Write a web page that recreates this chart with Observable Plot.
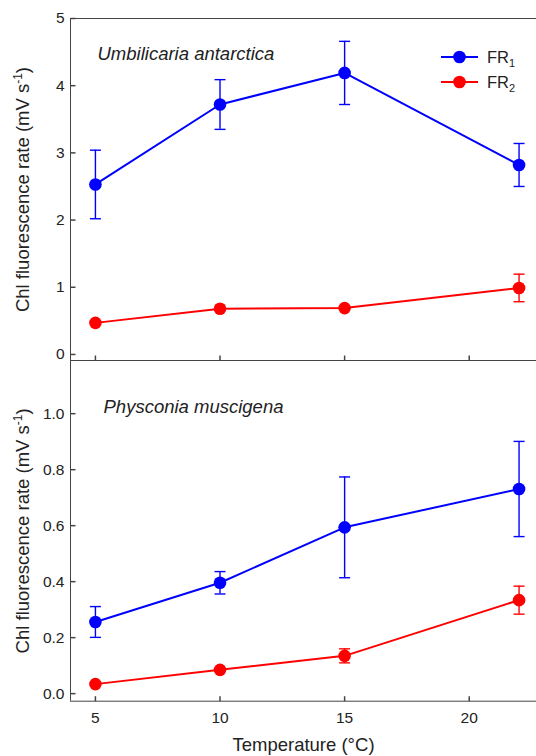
<!DOCTYPE html>
<html><head><meta charset="utf-8">
<script src="https://cdn.jsdelivr.net/npm/d3@7"></script>
<script src="https://cdn.jsdelivr.net/npm/@observablehq/plot@0.6"></script>
<style>
body{margin:0;background:#fff;}
#wrap{position:relative;width:536px;height:756px;overflow:hidden;background:#fff;font-family:"Liberation Sans",Arial,sans-serif;}
#wrap svg{position:absolute;left:0;}
</style></head><body><div id="wrap"></div>
<script>
// ---- data ----
const temps = [5, 10, 15, 22];
const xTicks = [5, 10, 15, 20];
const seriesNames = ["FR1", "FR2"];
const seriesColors = ["#0000ff", "#ff0000"];
// Umbilicaria antarctica
const umbFR1 = [2.53, 3.72, 4.19, 2.82];
const umbFR1se = [0.51, 0.37, 0.47, 0.32];
const umbFR2 = [0.47, 0.68, 0.69, 0.99];
const umbFR2se = [null, null, null, 0.205];
const umbYTicks = [0, 1, 2, 3, 4, 5];
// Physconia muscigena
const phyFR1 = [0.256, 0.396, 0.594, 0.731];
const phyFR1se = [0.055, 0.04, 0.18, 0.17];
const phyFR2 = [0.034, 0.085, 0.135, 0.334];
const phyFR2se = [null, null, 0.025, 0.05];
const phyYTicks = [0.0, 0.2, 0.4, 0.6, 0.8, 1.0];

const yTitle = "Chl fluorescence rate (mV s-1)";
const xTitle = "Temperature (\u00b0C)";
const font = '"Liberation Sans", Arial, sans-serif';
const axisColor = "#444";

function rows(series, means, ses) {
  return temps.map((t, i) => ({
    t, series, v: means[i],
    lo: ses[i] == null ? null : means[i] - ses[i],
    hi: ses[i] == null ? null : means[i] + ses[i]
  }));
}

const capSym = {draw(ctx, size) {const w = Math.sqrt(size / Math.PI); ctx.moveTo(-w, 0); ctx.lineTo(w, 0);}};
const tickRight = {draw(ctx, size) {const w = Math.sqrt(size / Math.PI); ctx.moveTo(0, 0); ctx.lineTo(w, 0);}};
const tickUp = {draw(ctx, size) {const w = Math.sqrt(size / Math.PI); ctx.moveTo(0, 0); ctx.lineTo(0, -w);}};

function panel({data, yDomain, yTicks, fmt, title, titleDx, titleDy, showX, height, marginTop, marginBottom}) {
  const xDomain = [4, 22.7];
  const err = data.filter(d => d.lo != null);
  const marks = [
    Plot.ruleY([yDomain[0], yDomain[1]], {stroke: axisColor, strokeWidth: 1}),
    Plot.ruleX([xDomain[0]], {stroke: axisColor, strokeWidth: 1}),
    Plot.dot(yTicks, {y: d => d, frameAnchor: "left", symbol: tickRight, r: 5, stroke: axisColor, fill: "none"}),
    Plot.dot(xTicks, {x: d => d, frameAnchor: "bottom", symbol: tickUp, r: 5, stroke: axisColor, fill: "none"}),
    Plot.axisY(yTicks, {tickSize: 0, tickPadding: 6, tickFormat: fmt, label: null}),
    Plot.text([yTitle], {frameAnchor: "left", rotate: -90, dx: -47, fontSize: 18.5, fill: "#222", textAnchor: "middle"}),
    Plot.text([title], {frameAnchor: "top-left", dx: titleDx, dy: titleDy, textAnchor: "start", fontStyle: "italic", fontSize: 18.5, fill: "#222"}),
    Plot.ruleX(err, {x: "t", y1: "lo", y2: "hi", stroke: "series", strokeWidth: 1.4}),
    Plot.dot(err, {x: "t", y: "lo", symbol: capSym, r: 5.5, stroke: "series", fill: "none", strokeWidth: 1.4}),
    Plot.dot(err, {x: "t", y: "hi", symbol: capSym, r: 5.5, stroke: "series", fill: "none", strokeWidth: 1.4}),
    Plot.line(data, {x: "t", y: "v", z: "series", stroke: "series", strokeWidth: 2}),
    Plot.dot(data, {x: "t", y: "v", r: 6.3, fill: "series", stroke: "none"})
  ];
  if (showX) {
    marks.push(Plot.axisX(xTicks, {tickSize: 0, tickPadding: 11, label: null}));
    marks.push(Plot.text([xTitle], {frameAnchor: "bottom", dy: 50, fontSize: 18.5, fill: "#222"}));
  }
  const svg = Plot.plot({
    width: 536, height, marginLeft: 70, marginRight: 0, marginTop, marginBottom,
    style: {fontFamily: font, fontSize: "15.5px", color: "#222", background: "transparent", overflow: "visible"},
    x: {domain: xDomain, axis: showX ? undefined : null},
    y: {domain: yDomain},
    color: {domain: seriesNames, range: seriesColors},
    marks
  });
  // superscript in the y title
  svg.querySelectorAll("text").forEach(el => {
    if (el.textContent === yTitle) {
      el.textContent = "";
      el.setAttribute("text-anchor", "middle");
      const ns = "http://www.w3.org/2000/svg";
      const a = document.createElementNS(ns, "tspan"); a.textContent = "Chl fluorescence rate (mV s"; el.appendChild(a);
      const b = document.createElementNS(ns, "tspan"); b.textContent = "-1"; b.setAttribute("font-size", "12px"); b.setAttribute("dy", "-7"); el.appendChild(b);
      const c = document.createElementNS(ns, "tspan"); c.textContent = ")"; c.setAttribute("dy", "7"); el.appendChild(c);
    }
  });
  return svg;
}

const wrap = document.getElementById("wrap");
const top1 = panel({
  data: [...rows("FR1", umbFR1, umbFR1se), ...rows("FR2", umbFR2, umbFR2se)],
  yDomain: [-0.09, 5], yTicks: umbYTicks, fmt: d3.format("d"),
  title: "Umbilicaria antarctica", titleDx: 27, titleDy: 28,
  showX: false, height: 370, marginTop: 18, marginBottom: 10
});
top1.style.top = "0px";
wrap.appendChild(top1);

const bot = panel({
  data: [...rows("FR1", phyFR1, phyFR1se), ...rows("FR2", phyFR2, phyFR2se)],
  yDomain: [-0.027, 1.19], yTicks: phyYTicks, fmt: d3.format(".1f"),
  title: "Physconia muscigena", titleDx: 33, titleDy: 39,
  showX: true, height: 406, marginTop: 10, marginBottom: 55.3
});
bot.style.top = "350px";
wrap.appendChild(bot);

// legend
const leg = d3.create("svg").attr("width", 536).attr("height", 100)
  .style("top", "0px").style("position", "absolute").style("overflow", "visible");
seriesNames.forEach((name, i) => {
  const y = 57 + i * 25;
  const g = leg.append("g");
  g.append("line").attr("x1", 441).attr("x2", 478).attr("y1", y).attr("y2", y)
    .attr("stroke", seriesColors[i]).attr("stroke-width", 2);
  g.append("circle").attr("cx", 459.5).attr("cy", y).attr("r", 6.3).attr("fill", seriesColors[i]);
  const t = g.append("text").attr("x", 487).attr("y", y + 6).attr("font-family", font)
    .attr("font-size", 16.5).attr("fill", "#222");
  t.append("tspan").text(name.slice(0, 2));
  t.append("tspan").text(name.slice(2)).attr("font-size", 11).attr("dy", 4);
});
wrap.appendChild(leg.node());
</script></body></html>
